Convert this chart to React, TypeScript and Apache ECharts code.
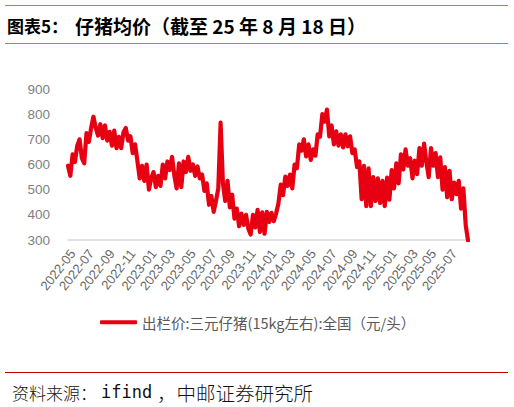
import React, { useEffect, useRef } from "react";
import * as echarts from "echarts";

// Weekly readings (yuan/head) of 出栏价:三元仔猪(15kg左右):全国, starting 2022-04-22
const startDate = "2022-04-22";
const stepDays = 7;
const prices: number[] = [
  595, 555, 640, 610, 675, 700, 625, 605, 725, 690,
  745, 790, 745, 715, 760, 705, 755, 695, 730, 675,
  735, 665, 710, 665, 728, 745, 695, 712, 645, 680,
  615, 545, 595, 535, 600, 500, 545, 570, 510, 555,
  515, 600, 545, 612, 578, 630, 555, 505, 605, 510,
  612, 570, 630, 575, 600, 555, 592, 545, 560, 495,
  525, 440, 475, 412, 455, 505, 766, 525, 455, 535,
  430, 480, 385, 425, 355, 405, 360, 400, 345, 322,
  400, 350, 420, 332, 410, 325, 412, 372, 408, 375,
  405, 445, 520, 478, 552, 515, 560, 505, 600, 585,
  680, 655, 700, 632, 680, 618, 660, 635, 720, 710,
  800, 770, 818, 712, 755, 680, 732, 675, 720, 668,
  720, 672, 712, 645, 660, 590, 612, 462, 595, 435,
  585, 435, 550, 455, 545, 447, 535, 435, 548, 460,
  578, 505, 605, 525, 640, 580, 660, 595, 625, 545,
  615, 562, 665, 595, 683, 610, 550, 665, 595, 645,
  550, 628, 500, 590, 470, 575, 462, 528, 482, 535,
  425, 505, 360, 298,
];
const yTicks = [300, 400, 500, 600, 700, 800, 900];

const titleLeft = "图表5：";
const titleRight = "仔猪均价（截至 25 年 8 月 18 日）";
const seriesName = "出栏价:三元仔猪(15kg左右):全国（元/头）";
const sourceParts = ["资料来源：", "ifind", "，中邮证券研究所"];

function buildDates(): string[] {
  const [y, m, d] = startDate.split("-").map(Number);
  const t0 = Date.UTC(y, m - 1, d);
  return prices.map((_, i) => {
    const dt = new Date(t0 + i * stepDays * 86400000);
    const mm = String(dt.getUTCMonth() + 1).padStart(2, "0");
    const dd = String(dt.getUTCDate()).padStart(2, "0");
    return `${dt.getUTCFullYear()}-${mm}-${dd}`;
  });
}

export default function App() {
  const ref = useRef<HTMLDivElement>(null);
  useEffect(() => {
    if (!ref.current) return;
    const chart = echarts.init(ref.current, undefined, { renderer: "svg" });
    const dates = buildDates();
    const latin = "'Liberation Sans', 'Noto Sans CJK SC', sans-serif";
    const cjk = "'Noto Sans CJK SC', sans-serif";
    chart.setOption({
      animation: false,
      backgroundColor: "#ffffff",
      grid: { left: 68, right: 46, top: 89, bottom: 167, containLabel: false },
      legend: {
        data: [seriesName],
        left: 100,
        top: 315,
        padding: 0,
        icon: "roundRect",
        itemWidth: 37,
        itemHeight: 4,
        itemGap: 5,
        textStyle: { color: "#595959", fontSize: 14.5, fontFamily: cjk },
      },
      xAxis: {
        type: "category",
        data: dates,
        boundaryGap: false,
        axisLine: { show: true, lineStyle: { color: "#d9d9d9", width: 1.5 } },
        axisTick: { show: false },
        splitLine: { show: false },
        axisLabel: {
          rotate: 52,
          margin: 11,
          color: "#666666",
          fontSize: 13,
          fontFamily: latin,
          interval: (index: number, value: string) => {
            if (index === 0) return false;
            const prev = dates[index - 1].slice(0, 7);
            const cur = value.slice(0, 7);
            const month = parseInt(value.slice(5, 7), 10);
            return cur !== prev && month % 2 === 1;
          },
          formatter: (value: string) => value.slice(0, 7),
        },
      },
      yAxis: {
        type: "value",
        min: yTicks[0],
        max: yTicks[yTicks.length - 1],
        interval: 100,
        axisLine: { show: false },
        axisTick: { show: false },
        splitLine: { show: false },
        axisLabel: { color: "#7f7f7f", fontSize: 13.5, margin: 18, fontFamily: latin },
      },
      series: [
        {
          name: seriesName,
          type: "line",
          data: prices,
          showSymbol: false,
          symbol: "none",
          color: "#e60012",
          lineStyle: { color: "#e60012", width: 4.2, join: "round", cap: "round" },
        },
      ],
      graphic: [
        { type: "line", shape: { x1: 5, y1: 5.5, x2: 508, y2: 5.5 }, style: { stroke: "#e06666", lineWidth: 1 } },
        { type: "line", shape: { x1: 5, y1: 43.5, x2: 508, y2: 43.5 }, style: { stroke: "#e06666", lineWidth: 1 } },
        { type: "line", shape: { x1: 5, y1: 372.5, x2: 508, y2: 372.5 }, style: { stroke: "#c00000", lineWidth: 1 } },
        {
          type: "text",
          x: 7,
          y: 25.5,
          style: { text: titleLeft, fill: "#000", font: `bold 17px ${cjk}`, verticalAlign: "middle" },
        },
        {
          type: "text",
          x: 75,
          y: 25.5,
          style: { text: titleRight, fill: "#000", font: `bold 19px ${cjk}`, verticalAlign: "middle" },
        },
        {
          type: "text",
          x: 12,
          y: 392,
          style: { text: sourceParts[0], fill: "#111", font: `300 17px ${cjk}`, verticalAlign: "middle" },
        },
        {
          type: "text",
          x: 101,
          y: 392,
          style: { text: sourceParts[1], fill: "#111", font: `17px 'DejaVu Sans Mono', monospace`, verticalAlign: "middle" },
        },
        {
          type: "text",
          x: 157,
          y: 392,
          style: { text: sourceParts[2], fill: "#111", font: `300 19.5px ${cjk}`, verticalAlign: "middle" },
        },
      ],
    });
    return () => chart.dispose();
  }, []);
  return (
    <div
      ref={ref}
      style={{ position: "absolute", left: 0, top: 0, width: 514, height: 407, background: "#fff" }}
    />
  );
}
